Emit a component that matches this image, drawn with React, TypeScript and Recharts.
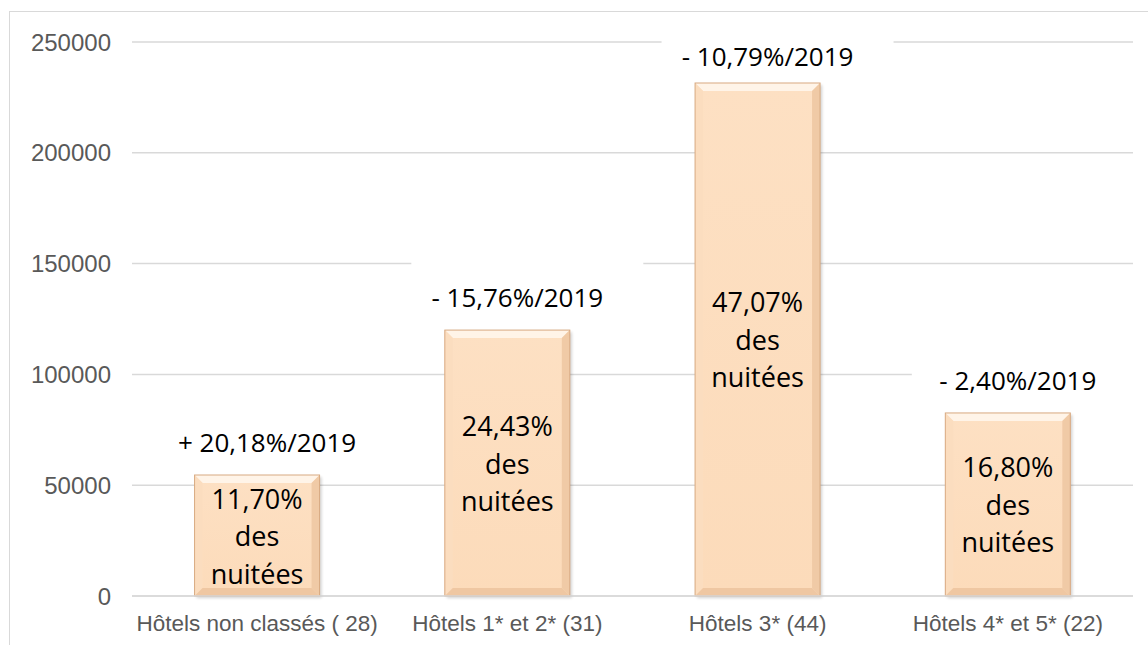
import { BarChart, Bar, XAxis, YAxis, CartesianGrid, LabelList } from "recharts";

const categories = [
  "Hôtels non classés ( 28)",
  "Hôtels 1* et 2* (31)",
  "Hôtels 3* (44)",
  "Hôtels 4* et 5* (22)",
];
const nuitees = [54600, 120000, 231500, 82600];
const variations = ["+ 20,18%/2019", "- 15,76%/2019", "- 10,79%/2019", "- 2,40%/2019"];
const parts = ["11,70%", "24,43%", "47,07%", "16,80%"];
const yTicks = [0, 50000, 100000, 150000, 200000, 250000];

const data = categories.map((name, i) => ({
  name,
  value: nuitees[i],
  variation: variations[i],
  part: parts[i],
}));

const LABEL_FONT = "'Open Sans', 'Noto Sans', sans-serif";

// peach bar with an Excel-like bevel
const BevelBar = (props: any) => {
  const { x, y, width: w, height: h } = props;
  if (!h || h <= 0) return null;
  const b = 8;
  return (
    <g>
      <rect x={x + 2} y={y + 2} width={w} height={h} fill="#000" opacity={0.18} filter="url(#barShadow)" />
      <rect x={x} y={y} width={w} height={h} fill="url(#barFill)" />
      <polygon points={`${x},${y} ${x + w},${y} ${x + w - b},${y + b} ${x + b},${y + b}`} fill="#FFF4E8" />
      <polygon points={`${x},${y} ${x + b},${y + b} ${x + b},${y + h - b} ${x},${y + h}`} fill="#FBDDBF" />
      <polygon points={`${x + w},${y} ${x + w},${y + h} ${x + w - b},${y + h - b} ${x + w - b},${y + b}`} fill="#F0CAA6" />
      <polygon points={`${x},${y + h} ${x + w},${y + h} ${x + w - b},${y + h - b} ${x + b},${y + h - b}`} fill="#EFC7A2" />
      <rect x={x} y={y} width={w} height={h} fill="none" stroke="#D8AA82" strokeWidth={1} />
    </g>
  );
};

const TopLabel = (props: any) => {
  const { x, y, width, index } = props;
  const cx = x + width / 2;
  const ty = Math.max(y - 33, 56);
  return (
    <g>
      <rect x={cx + 20 - 116} y={ty - 35} width={232} height={60} fill="#fff" />
      <text
        x={cx + 10}
        y={ty}
        textAnchor="middle"
        dominantBaseline="central"
        fontFamily={LABEL_FONT}
        fontSize={26}
        fill="#000"
      >
        {variations[index]}
      </text>
    </g>
  );
};

const InsideLabel = (props: any) => {
  const { x, y, width, height, index } = props;
  const cx = x + width / 2;
  const cy = y + height / 2;
  const lines = [parts[index], "des", "nuitées"];
  const lh = 37.5;
  return (
    <text textAnchor="middle" fontFamily={LABEL_FONT} fontSize={27} fill="#000">
      {lines.map((l, i) => (
        <tspan key={i} x={cx} y={cy + (i - 1) * lh} dominantBaseline="central">
          {l}
        </tspan>
      ))}
    </text>
  );
};

export default function App() {
  return (
    <div
      style={{
        position: "fixed",
        left: 0,
        top: 0,
        width: 1148,
        height: 645,
        background: "#fff",
        overflow: "hidden",
      }}
    >
      <div
        style={{
          position: "absolute",
          left: 9,
          top: 11,
          width: 1160,
          height: 660,
          border: "1.5px solid #d9d9d9",
        }}
      />
      <div style={{ position: "absolute", left: 0, top: 0 }}>
        <BarChart
          width={1148}
          height={645}
          data={data}
          margin={{ top: 42, right: 15, bottom: 0, left: 32 }}
          barCategoryGap="25%"
        >
          <defs>
            <linearGradient id="barFill" x1="0" y1="0" x2="0" y2="1">
              <stop offset="0%" stopColor="#FDE0C3" />
              <stop offset="100%" stopColor="#FCDBBA" />
            </linearGradient>
            <filter id="barShadow" x="-10%" y="-10%" width="120%" height="120%">
              <feGaussianBlur stdDeviation="1.5" />
            </filter>
          </defs>
          <CartesianGrid vertical={false} stroke="#d9d9d9" strokeWidth={1.5} />
          <XAxis
            dataKey="name"
            axisLine={{ stroke: "#d9d9d9", strokeWidth: 1.5 }}
            tickLine={false}
            tickSize={0}
            tickMargin={19}
            height={49}
            interval={0}
            tick={{ fill: "#595959", fontSize: 22.5, fontFamily: "'Liberation Sans', Arial, sans-serif" }}
          />
          <YAxis
            width={100}
            domain={[0, 250000]}
            ticks={yTicks}
            axisLine={false}
            tickLine={false}
            tickSize={0}
            tickMargin={21}
            tick={{ fill: "#595959", fontSize: 24, fontFamily: "'Liberation Sans', Arial, sans-serif" }}
          />
          <Bar dataKey="value" isAnimationActive={false} shape={<BevelBar />}>
            <LabelList dataKey="variation" content={<TopLabel />} />
            <LabelList dataKey="part" content={<InsideLabel />} />
          </Bar>
        </BarChart>
      </div>
    </div>
  );
}
